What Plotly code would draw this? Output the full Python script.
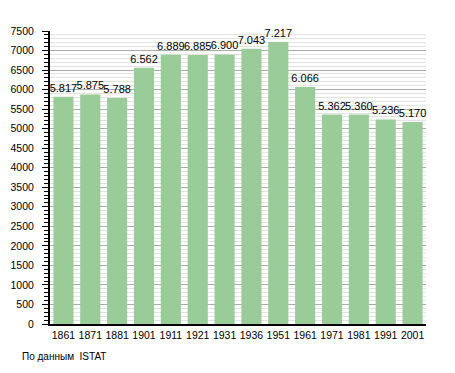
import plotly.graph_objects as go

years = ["1861", "1871", "1881", "1901", "1911", "1921", "1931", "1936", "1951", "1961", "1971", "1981", "1991", "2001"]
population = [5817, 5875, 5788, 6562, 6889, 6885, 6900, 7043, 7217, 6066, 5362, 5360, 5236, 5170]
labels = [f"{v:,}".replace(",", ".") for v in population]

# page body has ~8px margin; compensate
OFF = 8
W, H = 455 - OFF, 373 - OFF
L, T, R, B = 50 - OFF, 31 - OFF, 29, 49
PW = W - L - R
PH = H - T - B

fig = go.Figure(go.Bar(
    x=years, y=population, text=labels, textposition="outside",
    constraintext="none",
    marker=dict(color="#99cc99", line=dict(width=0)),
    textfont=dict(size=11, color="#000", family="Liberation Sans, Arial"),
    cliponaxis=False, width=0.75,
))

fig.update_layout(
    width=W, height=H,
    margin=dict(l=L, r=R, t=T, b=B, autoexpand=False),
    plot_bgcolor="white", paper_bgcolor="white",
    font=dict(family="Liberation Sans, Arial", size=10, color="#000"),
    showlegend=False,
    xaxis=dict(type="category", showline=True, linecolor="#000", linewidth=2,
               ticks="", tickfont=dict(size=10.5), automargin=False),
    yaxis=dict(range=[0, 7500], dtick=500, showline=True, linecolor="#000", linewidth=2,
               ticks="outside", ticklen=6, tickcolor="#000", tickwidth=1,
               ticklabelstandoff=6,
               gridcolor="#aaaaaa", gridwidth=1, zeroline=False,
               tickfont=dict(size=10.5), automargin=False,
               minor=dict(dtick=100, showgrid=True, gridcolor="#e2e2e2", gridwidth=1,
                          ticks="outside", ticklen=4, tickcolor="#000")),
    annotations=[dict(text="По данным  ISTAT", xref="paper", yref="paper",
                      x=(20 - 50) / PW, y=(324 - 356) / PH, showarrow=False,
                      xanchor="left", yanchor="middle", font=dict(size=10))],
)
fig.write_html("out.html")
